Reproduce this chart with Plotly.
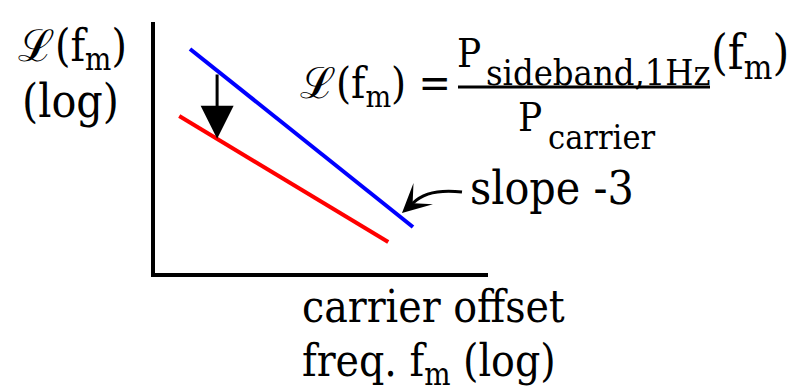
import math
import plotly.graph_objects as go

# Phase-noise sketch: single-sideband noise L(f_m) versus carrier offset, log-log
W, H = 807, 392

# carrier offset (Hz) and L(f_m) (1/Hz) end points of the two noise asymptotes
offset_blue = [20, 2000]
noise_blue = [4e-6, 4e-12]
offset_red = [16, 1200]
noise_red = [2.2e-8, 1.25e-12]
# offset where the improvement arrow is drawn
arrow_offset = 35

# axis windows, in decades
x_range = [0.987, 3.974]
y_range = [-12.948, -4.489]

SERIF = "DejaVu Serif Condensed, DejaVu Serif, serif"


def px(x):
    return x / W


def py(y):
    return 1 - y / H


def loglog_at(xs, ys, x):
    lx = [math.log10(v) for v in xs]
    ly = [math.log10(v) for v in ys]
    t = (math.log10(x) - lx[0]) / (lx[1] - lx[0])
    return ly[0] + t * (ly[1] - ly[0])


fig = go.Figure()
fig.add_trace(go.Scatter(x=offset_blue, y=noise_blue, mode="lines",
                         line=dict(color="#0000ff", width=4), hoverinfo="skip"))
fig.add_trace(go.Scatter(x=offset_red, y=noise_red, mode="lines",
                         line=dict(color="#ff0000", width=4), hoverinfo="skip"))

ann = []


def label(text, x, y, size, xanchor="left"):
    ann.append(dict(text=text, x=px(x), y=py(y), xref="paper", yref="paper",
                    xanchor=xanchor, yanchor="middle", showarrow=False,
                    font=dict(family=SERIF, size=size, color="black")))


# improvement arrow from blue asymptote down to red one
ax_log = math.log10(arrow_offset)
ann.append(dict(x=ax_log, y=loglog_at(offset_red, noise_red, arrow_offset),
                ax=ax_log, ay=loglog_at(offset_blue, noise_blue, arrow_offset) - 0.08,
                xref="x", yref="y", axref="x", ayref="y", text="",
                showarrow=True, arrowhead=2, arrowsize=2.2, arrowwidth=3,
                arrowcolor="black", standoff=0))

# pointer head for the slope label
ann.append(dict(x=px(402), y=py(213), xref="paper", yref="paper", text="",
                showarrow=True, ax=12, ay=-11, arrowhead=3, arrowsize=1.6,
                arrowwidth=3, arrowcolor="black", standoff=0))

# axis titles
label("ℒ(f<sub>m</sub>)", 16, 48, 44)
label("(log)", 20, 101, 46)
label("carrier offset", 300, 306, 44)
label("freq. f<sub>m</sub> (log)", 300, 363, 44)
label("slope -3", 468, 188, 46)

# definition of L(f_m)
label("ℒ(f<sub>m</sub>) =", 298, 86, 43)
label("P", 455, 53, 40)
label("sideband,1Hz", 484, 72, 36)
label("(f<sub>m</sub>)", 709, 56, 48)
label("P", 516, 117, 40)
label("carrier", 546, 137, 34)

shapes = [
    # fraction bar
    dict(type="line", xref="paper", yref="paper", x0=px(458), x1=px(710),
         y0=py(87), y1=py(87), line=dict(color="black", width=3)),
    # curved leader from the slope label
    dict(type="path", xref="paper", yref="paper",
         path=f"M {px(462)},{py(192)} Q {px(428)},{py(188)} {px(413)},{py(203)}",
         line=dict(color="black", width=3)),
]

fig.update_layout(
    width=W, height=H, margin=dict(l=0, r=0, t=0, b=0),
    paper_bgcolor="white", plot_bgcolor="white", showlegend=False,
    font=dict(family=SERIF),
    annotations=ann, shapes=shapes,
    xaxis=dict(type="log", range=x_range, domain=[155 / W, 488 / W],
               showline=True, linecolor="black", linewidth=4,
               showgrid=False, zeroline=False, showticklabels=False, ticks=""),
    yaxis=dict(type="log", range=y_range, domain=[1 - 273 / H, 1 - 22 / H],
               showline=True, linecolor="black", linewidth=4,
               showgrid=False, zeroline=False, showticklabels=False, ticks=""),
)

fig.write_html("out.html")
